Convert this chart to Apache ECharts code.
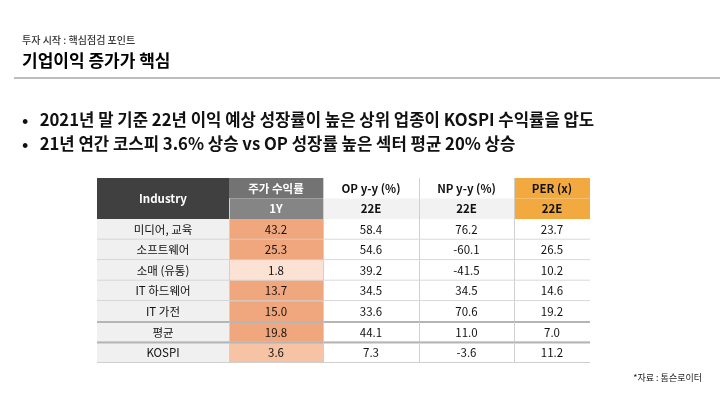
<!DOCTYPE html><html><head><meta charset="utf-8"><script src="https://cdn.jsdelivr.net/npm/echarts@6/dist/echarts.min.js"></script>
<style>body{margin:0;background:#fff}#c{width:720px;height:405px}</style></head><body><div id="c"></div><script>
const industries=['미디어, 교육','소프트웨어','소매 (유통)','IT 하드웨어','IT 가전','평균','KOSPI'];
const ret1Y=[43.2,25.3,1.8,13.7,15.0,19.8,3.6];
const opYY=[58.4,54.6,39.2,34.5,33.6,44.1,7.3];
const npYY=[76.2,-60.1,-41.5,34.5,70.6,11.0,-3.6];
const per=[23.7,26.5,10.2,14.6,19.2,7.0,11.2];
const headers1=['Industry','주가 수익률','OP y-y (%)','NP y-y (%)','PER (x)'];
const headers2=['','1Y','22E','22E','22E'];
const colEdges=[0,132,226,322,417,493];
const F='"Noto Sans CJK KR","Noto Sans",sans-serif';
const cells=[];
headers1.forEach((h,i)=>cells.push({value:[i,0],t:h,kind:'h1'}));
headers2.forEach((h,i)=>{if(i>0)cells.push({value:[i,1],t:h,kind:'h2'});});
industries.forEach((n,r)=>{
  const vals=[n,ret1Y[r].toFixed(1),opYY[r].toFixed(1),npYY[r].toFixed(1),per[r].toFixed(1)];
  vals.forEach((v,c)=>cells.push({value:[c,r+2],t:v,kind:'d',num:ret1Y[r]}));
});
function fillOf(d){
  const c=d.value[0],r=d.value[1];
  if(d.kind!=='d'){
    if(c===0)return '#404040';
    if(c===1)return r===0?'#737373':'#858585';
    if(c===4)return '#f2a93f';
    return r===0?'#ffffff':'#f2f2f2';
  }
  if(c===0)return '#f0f0f0';
  if(c===1){const v=d.num; if(v<3)return '#fbe2d4'; if(v<5)return '#f6c3a5'; return '#f0a77d';}
  return '#ffffff';
}
function textColor(d){const c=d.value[0];if(d.kind!=='d'&&(c===0||c===1))return '#ffffff';return '#111';}
const chart=echarts.init(document.getElementById('c'));
chart.setOption({
  animation:false,
  grid:{left:97,top:178,width:493,height:185},
  xAxis:{type:'value',min:0,max:493,show:false},
  yAxis:{type:'value',min:0,max:9,inverse:true,show:false},
  graphic:[
    {type:'text',left:22,top:35,style:{text:'투자 시작 : 핵심점검 포인트',font:'500 10px '+F,fill:'#333'}},
    {type:'text',left:22,top:52,style:{text:'기업이익 증가가 핵심',font:'bold 17px '+F,fill:'#000'}},
    {type:'rect',shape:{x:14,y:77,width:706,height:2},style:{fill:'#bdbdbd'}},
    {type:'text',left:22,top:111,style:{text:'•   2021년 말 기준 22년 이익 예상 성장률이 높은 상위 업종이 KOSPI 수익률을 압도',font:'bold 16.7px '+F,fill:'#111'}},
    {type:'text',left:22,top:135,style:{text:'•   21년 연간 코스피 3.6% 상승 vs OP 성장률 높은 섹터 평균 20% 상승',font:'bold 16.7px '+F,fill:'#111'}},
    {type:'text',right:18,top:373,style:{text:'*자료 : 톰슨로이터',font:'9px '+F,fill:'#222'}}
  ],
  series:[{type:'custom',data:cells,renderItem:(p,api)=>{
    const d=cells[p.dataIndex];const c=d.value[0],r=d.value[1];
    let r0=r,r1=r+1;
    if(d.kind==='h1'&&(c===0))r1=2;
    const a=api.coord([colEdges[c],r0]),b=api.coord([colEdges[c+1],r1]);
    const w=b[0]-a[0],h=b[1]-a[1];
    const ch=[{type:'rect',shape:{x:a[0],y:a[1],width:w,height:h},style:{fill:fillOf(d)}}];
    if(d.kind==='d'){
      const thick=(r===7||r===8);
      ch.push({type:'rect',shape:{x:a[0],y:b[1]-1,width:w,height:1},style:{fill:'#cfcfcf'}});
      if(thick)ch.push({type:'rect',shape:{x:a[0],y:a[1]-1,width:w,height:2},style:{fill:'#b5b5b5'}});
    }
    if(c>0&&c<5&&!(d.kind==='h1'&&c===1))ch.push({type:'rect',shape:{x:a[0],y:a[1],width:1,height:h},style:{fill:'#d0d0d0'}});
    const bold=d.kind!=='d';
    ch.push({type:'text',style:{text:d.t,x:a[0]+w/2,y:a[1]+h/2,align:'center',verticalAlign:'middle',font:(bold?'bold ':'')+'11.5px '+F,fill:textColor(d)}});
    return {type:'group',children:ch};
  }}]
});
</script></body></html>
